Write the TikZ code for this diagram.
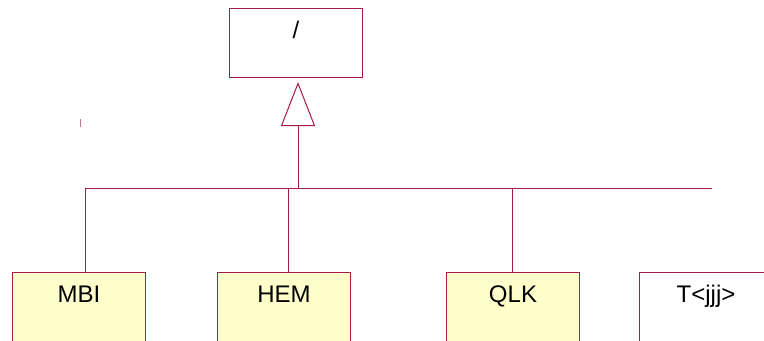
\documentclass[tikz,border=0pt]{standalone}
\usepackage{fontspec}
\setmainfont{Liberation Sans}
\usetikzlibrary{arrows.meta}
\definecolor{umlred}{RGB}{168,24,72}
\definecolor{umlyellow}{RGB}{255,255,204}
\tikzset{
  classbox/.style={draw=umlred, line width=0.75pt, fill=umlyellow, anchor=north west,
    minimum width=99.75pt, inner sep=0pt, text height=22.5pt, text depth=29.25pt,
    font=\fontsize{18}{20}\selectfont},
  emptybox/.style={classbox, fill=white},
  link/.style={draw=umlred, line width=0.75pt},
  inherit/.style={link, -{Triangle[open, length=33pt, width=25.5pt]}, shorten >=3pt}
}
\begin{document}
\begin{tikzpicture}[x=0.75pt,y=-0.75pt,line cap=butt,line join=miter]
	\useasboundingbox (0,0) rectangle (764,340);
	\clip (0,0) rectangle (764,340);
	% classes
	\node[emptybox] (root) at (229,8) {/};
	\node[classbox] (mbi) at (12,272) {MBI};
	\node[classbox] (hem) at (217,272) {HEM};
	\node[classbox] (qlk) at (446,272) {QLK};
	\node[emptybox] (tjjj) at (639,272) {T<jjj>};
	% bus
	\coordinate (busL) at (85,188);
	\coordinate (busR) at (712,188);
	\coordinate (jroot) at (298,188);
	\coordinate (jmbi) at (85,188);
	\coordinate (jhem) at (288,188);
	\coordinate (jqlk) at (512,188);
	\draw[link] (busL) -- (busR);
	\draw[inherit] (jroot) -- (jroot |- root.south);
	\draw[link] (jmbi) -- (jmbi |- mbi.north);
	\draw[link] (jhem) -- (jhem |- hem.north);
	\draw[link] (jqlk) -- (jqlk |- qlk.north);
	% stray tick
	\coordinate (tickA) at (80.5,119);
	\coordinate (tickB) at (80.5,127);
	\draw[link, opacity=0.6] (tickA) -- (tickB);
\end{tikzpicture}
\end{document}
